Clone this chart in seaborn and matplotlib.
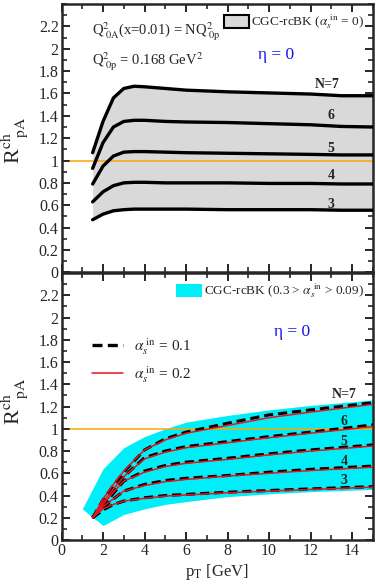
import numpy as np
import pandas as pd
import matplotlib
matplotlib.use("Agg")
import matplotlib.pyplot as plt
import seaborn as sns
from matplotlib.patches import Patch
from matplotlib.lines import Line2D
from matplotlib.ticker import MultipleLocator

# ---------------- data ----------------
# top panel: alpha_s^in = 0, N = 3..7
pt_top = [1.5, 2, 2.5, 3, 3.5, 4, 5, 6, 8, 10, 12, 13.5, 15]
top_N7 = [1.07, 1.35, 1.56, 1.645, 1.665, 1.66, 1.645, 1.63, 1.615, 1.605, 1.595, 1.58, 1.58]
top_N6 = [0.93, 1.16, 1.30, 1.35, 1.36, 1.36, 1.35, 1.345, 1.34, 1.33, 1.32, 1.305, 1.30]
top_N5 = [0.79, 0.95, 1.04, 1.075, 1.08, 1.08, 1.075, 1.07, 1.065, 1.06, 1.055, 1.05, 1.05]
top_N4 = [0.63, 0.72, 0.775, 0.80, 0.805, 0.805, 0.80, 0.80, 0.80, 0.795, 0.795, 0.79, 0.79]
top_N3 = [0.47, 0.52, 0.55, 0.56, 0.565, 0.565, 0.565, 0.565, 0.56, 0.56, 0.56, 0.555, 0.555]

# bottom panel: alpha_s^in = 0.1 (dashed) and 0.2 (red)
pt_bot = [1.5, 2, 2.5, 3, 4, 5, 6, 8, 10, 12, 15]
a01_N7 = [0.2, 0.36, 0.49, 0.61, 0.81, 0.91, 0.97, 1.05, 1.125, 1.17, 1.235]
a01_N6 = [0.2, 0.33, 0.45, 0.57, 0.74, 0.80, 0.84, 0.885, 0.93, 0.97, 1.035]
a01_N5 = [0.2, 0.31, 0.42, 0.53, 0.62, 0.67, 0.70, 0.735, 0.775, 0.81, 0.855]
a01_N4 = [0.2, 0.29, 0.37, 0.44, 0.50, 0.535, 0.555, 0.58, 0.61, 0.635, 0.665]
a01_N3 = [0.2, 0.27, 0.32, 0.35, 0.38, 0.40, 0.41, 0.43, 0.445, 0.46, 0.48]

a02_N7 = [0.2, 0.37, 0.50, 0.62, 0.81, 0.90, 0.96, 1.03, 1.10, 1.15, 1.22]
a02_N6 = [0.2, 0.34, 0.46, 0.57, 0.73, 0.79, 0.83, 0.875, 0.92, 0.96, 1.02]
a02_N5 = [0.2, 0.32, 0.43, 0.53, 0.61, 0.66, 0.69, 0.725, 0.765, 0.80, 0.845]
a02_N4 = [0.2, 0.30, 0.37, 0.44, 0.49, 0.525, 0.545, 0.575, 0.60, 0.625, 0.655]
a02_N3 = [0.2, 0.28, 0.32, 0.35, 0.375, 0.395, 0.405, 0.425, 0.44, 0.455, 0.475]

# band 0.3 > alpha_s^in > 0.09
pt_band = [1, 2, 3, 4, 5, 6, 8, 10, 12, 15]
band_hi = [0.28, 0.64, 0.83, 0.93, 1.00, 1.06, 1.12, 1.17, 1.21, 1.26]
band_lo = [0.28, 0.13, 0.23, 0.28, 0.32, 0.345, 0.39, 0.415, 0.435, 0.455]

n_labels = ["N=7", "6", "5", "4", "3"]
top_label_y = [1.68, 1.40, 1.11, 0.87, 0.61]
bot_label_y = [1.31, 1.07, 0.89, 0.71, 0.535]

# ---------------- style ----------------
sns.set_theme(style="ticks")
plt.rcParams["font.family"] = ["Liberation Serif", "DejaVu Serif"]
plt.rcParams["mathtext.fontset"] = "stix"
plt.rcParams["axes.linewidth"] = 1.8

fig = plt.figure(figsize=(3.76, 5.88), dpi=100)
ax1 = fig.add_axes([0.1636, 0.537, 0.828, 0.456])
ax2 = fig.add_axes([0.1636, 0.0816, 0.828, 0.454])

top_curves = [top_N7, top_N6, top_N5, top_N4, top_N3]
a01 = [a01_N7, a01_N6, a01_N5, a01_N4, a01_N3]
a02 = [a02_N7, a02_N6, a02_N5, a02_N4, a02_N3]

blue = "#1414e6"
ain = r"$\alpha_{s}^{\ \mathrm{in}}$"

# ---- top panel ----
ax1.fill_between(pt_top, top_N3, top_N7, color="#d9d9d9", lw=0, zorder=1)
ax1.plot([0.4, 15], [1, 1], color="orange", lw=1.1, zorder=2)
for c in top_curves:
    df = pd.DataFrame({"pt": pt_top, "R": c})
    sns.lineplot(data=df, x="pt", y="R", ax=ax1, color="black", lw=2.4, zorder=3)
for lab, y in zip(n_labels, top_label_y):
    ax1.text(12.8 if lab == "N=7" else 13.0, y, lab, ha="center", va="center",
             fontsize=10, fontweight="bold")
ax1.text(1.45, 2.15, r"Q$^{2}_{\ 0\mathrm{A}}$(x=0.01) = NQ$^{2}_{\ 0\mathrm{p}}$",
         fontsize=10.5, va="center")
ax1.text(1.45, 1.885, r"Q$^{2}_{\ 0\mathrm{p}}$ = 0.168 GeV$^{2}$", fontsize=10.5, va="center")
ax1.text(10.35, 1.945, "η = 0", color=blue, fontsize=12.5, ha="center", va="center")
h1 = Patch(facecolor="#d9d9d9", edgecolor="black", lw=1.5)
ax1.legend([h1], ["CGC-rcBK (" + ain + " = 0)"], loc="upper right",
           frameon=False, fontsize=9.5, handlelength=1.9, handleheight=1.2,
           borderaxespad=0.35, handletextpad=0.2, borderpad=0.3)

# ---- bottom panel ----
ax2.fill_between(pt_band, band_lo, band_hi, color="#00eef8", lw=0, zorder=1)
ax2.plot([0.4, 15], [1, 1], color="orange", lw=1.1, zorder=2)
for c1, c2 in zip(a01, a02):
    df1 = pd.DataFrame({"pt": pt_bot, "R": c1})
    df2 = pd.DataFrame({"pt": pt_bot, "R": c2})
    sns.lineplot(data=df1, x="pt", y="R", ax=ax2, color="black", lw=2.2,
                 linestyle=(0, (3, 1.6)), zorder=3)
    sns.lineplot(data=df2, x="pt", y="R", ax=ax2, color="#e8141c", lw=1.1, zorder=4)
for lab, y in zip(n_labels, bot_label_y):
    ax2.text(13.6, y, lab, ha="center", va="center", fontsize=10, fontweight="bold")
ax2.text(11.1, 1.87, "η = 0", color=blue, fontsize=12.5, ha="center", va="center")
hb = Patch(facecolor="#00eef8", edgecolor="none")
leg_b = ax2.legend([hb], ["CGC-rcBK (0.3 > " + ain + " > 0.09)"],
                   loc="upper right", frameon=False, fontsize=9.5, handlelength=1.9,
                   handleheight=1.2, borderaxespad=0.35, handletextpad=0.2, borderpad=0.3)
ax2.add_artist(leg_b)
hl1 = Line2D([], [], color="black", lw=2.4, linestyle=(0, (3, 1.6)))
hl2 = Line2D([], [], color="#e8141c", lw=1.1)
ax2.legend([hl1, hl2], [ain + " = 0.1", ain + " = 0.2"],
           loc="upper left", bbox_to_anchor=(0.055, 0.815), frameon=False, fontsize=11,
           handlelength=2.0, labelspacing=0.45, handletextpad=0.7)

for ax in (ax1, ax2):
    ax.set_xlim(0, 15)
    ax.set_ylim(0, 2.4)
    ax.xaxis.set_major_locator(MultipleLocator(2))
    ax.xaxis.set_minor_locator(MultipleLocator(1))
    ax.yaxis.set_minor_locator(MultipleLocator(0.1))
    ax.set_yticks(np.round(np.arange(0, 2.21, 0.2), 1))
    ax.set_yticklabels(["0", "0.2", "0.4", "0.6", "0.8", "1", "1.2", "1.4", "1.6",
                        "1.8", "2", "2.2"])
    ax.tick_params(which="both", direction="in", top=True, right=True, labelsize=11.5,
                   pad=2)
    ax.tick_params(which="major", length=6, width=1.4)
    ax.tick_params(which="minor", length=3.5, width=1.2)
    ax.set_ylabel(r"R$^{\mathrm{ch}}_{\ \ \ \mathrm{pA}}$", fontsize=16)
    ax.set_xlabel("")

ax1.yaxis.set_label_coords(-0.10, 0.49)
ax2.yaxis.set_label_coords(-0.10, 0.52)
ax1.tick_params(labelbottom=False)
ax2.set_xticks([0, 2, 4, 6, 8, 10, 12, 14])
ax2.set_xticklabels(["0", "2", "4", "6", "8", "10", "12", "14"])
ax2.set_xlabel(r"p$_{\mathrm{T}}$ [GeV]", fontsize=12, labelpad=2)

fig.savefig("out.png", dpi=100)
